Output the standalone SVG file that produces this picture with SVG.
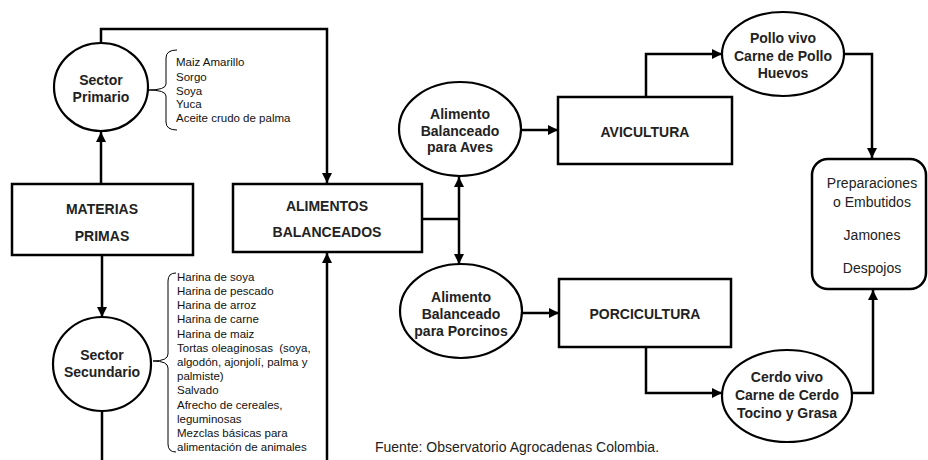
<svg xmlns="http://www.w3.org/2000/svg" width="928" height="460" viewBox="0 0 928 460">
<style>
.bg{fill:#ffffff}
.box{fill:#ffffff;stroke:#000;stroke-width:2.5}
.oval{fill:#ffffff;stroke:#000;stroke-width:2.2}
.con{fill:none;stroke:#000;stroke-width:2.5}
.brace{fill:none;stroke:#000;stroke-width:1}
.lbl{font-family:"Liberation Sans",Arial,sans-serif;font-weight:bold;font-size:14px;fill:#222;text-anchor:middle}
.lblr{font-family:"Liberation Sans",Arial,sans-serif;font-size:14px;fill:#222;text-anchor:middle}
.lst{font-family:"Liberation Sans",Arial,sans-serif;font-size:11.5px;fill:#111}
.src{font-family:"Liberation Sans",Arial,sans-serif;font-size:14px;fill:#222}
</style>
<defs>
<marker id="arr" markerUnits="userSpaceOnUse" markerWidth="10" markerHeight="10" viewBox="0 0 10 10" refX="10" refY="5" orient="auto">
<path d="M0,0 L10,5 L0,10 z" fill="#000"/>
</marker>
</defs>
<rect class="bg" x="0" y="0" width="928" height="460"/>

<g id="connectors">
<path class="con" d="M101,43 V29 H327 V183" marker-end="url(#arr)"/>
<path class="con" d="M101,184 V132" marker-end="url(#arr)"/>
<path class="con" d="M102,255 V317" marker-end="url(#arr)"/>
<path class="con" d="M102,411 V460"/>
<path class="con" d="M327,460 V253" marker-end="url(#arr)"/>
<path class="con" d="M422,219 H459"/>
<path class="con" d="M459,219 V177" marker-end="url(#arr)"/>
<path class="con" d="M459,219 V264" marker-end="url(#arr)"/>
<path class="con" d="M522,130 H558" marker-end="url(#arr)"/>
<path class="con" d="M522,313 H559" marker-end="url(#arr)"/>
<path class="con" d="M646,97 V54 H722" marker-end="url(#arr)"/>
<path class="con" d="M646,347 V393 H722" marker-end="url(#arr)"/>
<path class="con" d="M845,54 H872 V158" marker-end="url(#arr)"/>
<path class="con" d="M852,393 H873 V290" marker-end="url(#arr)"/>
<path class="brace" d="M177,50 Q166,50 166,58 L166,84 Q166,90 148,90 Q166,90 166,96 L166,122 Q166,130 177,130"/>
<path class="brace" d="M176,273 Q168,273 168,281 L168,354 Q168,361 153,361 Q168,361 168,368 L168,444 Q168,452 176,452"/>
</g>

<g id="sector-primario">
<ellipse class="oval" cx="101" cy="87" rx="47" ry="44"/>
<text class="lbl" x="101" y="85">Sector</text>
<text class="lbl" x="101" y="102">Primario</text>
</g>
<g id="lista-primario">
<text class="lst" x="176" y="66">Maiz Amarillo</text>
<text class="lst" x="176" y="81">Sorgo</text>
<text class="lst" x="176" y="95">Soya</text>
<text class="lst" x="176" y="108">Yuca</text>
<text class="lst" x="176" y="122">Aceite crudo de palma</text>
</g>

<g id="materias-primas">
<rect class="box" x="12" y="184" width="181" height="71"/>
<text class="lbl" x="102" y="214">MATERIAS</text>
<text class="lbl" x="102" y="241">PRIMAS</text>
</g>

<g id="sector-secundario">
<ellipse class="oval" cx="102" cy="364" rx="49" ry="47"/>
<text class="lbl" x="102" y="360">Sector</text>
<text class="lbl" x="102" y="377">Secundario</text>
</g>
<g id="lista-secundario">
<text class="lst" x="177" y="281">Harina de soya</text>
<text class="lst" x="177" y="295">Harina de pescado</text>
<text class="lst" x="177" y="309">Harina de arroz</text>
<text class="lst" x="177" y="323">Harina de carne</text>
<text class="lst" x="177" y="338">Harina de maiz</text>
<text class="lst" x="177" y="352">Tortas oleaginosas &#160;(soya,</text>
<text class="lst" x="177" y="366">algodón, ajonjolí, palma y</text>
<text class="lst" x="177" y="380">palmiste)</text>
<text class="lst" x="177" y="394">Salvado</text>
<text class="lst" x="177" y="409">Afrecho de cereales,</text>
<text class="lst" x="177" y="423">leguminosas</text>
<text class="lst" x="177" y="437">Mezclas básicas para</text>
<text class="lst" x="177" y="451">alimentación de animales</text>
</g>

<g id="alimentos-balanceados">
<rect class="box" x="233" y="184" width="189" height="68"/>
<text class="lbl" x="327" y="211">ALIMENTOS</text>
<text class="lbl" x="327" y="237">BALANCEADOS</text>
</g>

<g id="alimento-aves">
<ellipse class="oval" cx="460" cy="129" rx="61" ry="47"/>
<text class="lbl" x="460" y="119">Alimento</text>
<text class="lbl" x="460" y="136">Balanceado</text>
<text class="lbl" x="460" y="152">para Aves</text>
</g>

<g id="alimento-porcinos">
<ellipse class="oval" cx="461" cy="311" rx="61" ry="47"/>
<text class="lbl" x="461" y="302">Alimento</text>
<text class="lbl" x="461" y="319">Balanceado</text>
<text class="lbl" x="461" y="336">para Porcinos</text>
</g>

<g id="avicultura">
<rect class="box" x="558" y="97" width="174" height="67"/>
<text class="lbl" x="645" y="137">AVICULTURA</text>
</g>

<g id="porcicultura">
<rect class="box" x="559" y="279" width="172" height="68"/>
<text class="lbl" x="645" y="319">PORCICULTURA</text>
</g>

<g id="pollo">
<ellipse class="oval" cx="783" cy="54" rx="61" ry="42"/>
<text class="lbl" x="783" y="43">Pollo vivo</text>
<text class="lbl" x="783" y="61">Carne de Pollo</text>
<text class="lbl" x="783" y="78">Huevos</text>
</g>

<g id="cerdo">
<ellipse class="oval" cx="787" cy="396" rx="65" ry="46"/>
<text class="lbl" x="787" y="382">Cerdo vivo</text>
<text class="lbl" x="787" y="400">Carne de Cerdo</text>
<text class="lbl" x="787" y="418">Tocino y Grasa</text>
</g>

<g id="preparaciones">
<rect class="box" x="812" y="159" width="114" height="130" rx="16" ry="16"/>
<text class="lblr" x="872" y="188">Preparaciones</text>
<text class="lblr" x="872" y="207">o Embutidos</text>
<text class="lblr" x="872" y="240">Jamones</text>
<text class="lblr" x="872" y="273">Despojos</text>
</g>

<g id="fuente">
<text class="src" x="375" y="452">Fuente: Observatorio Agrocadenas Colombia.</text>
</g>
</svg>
